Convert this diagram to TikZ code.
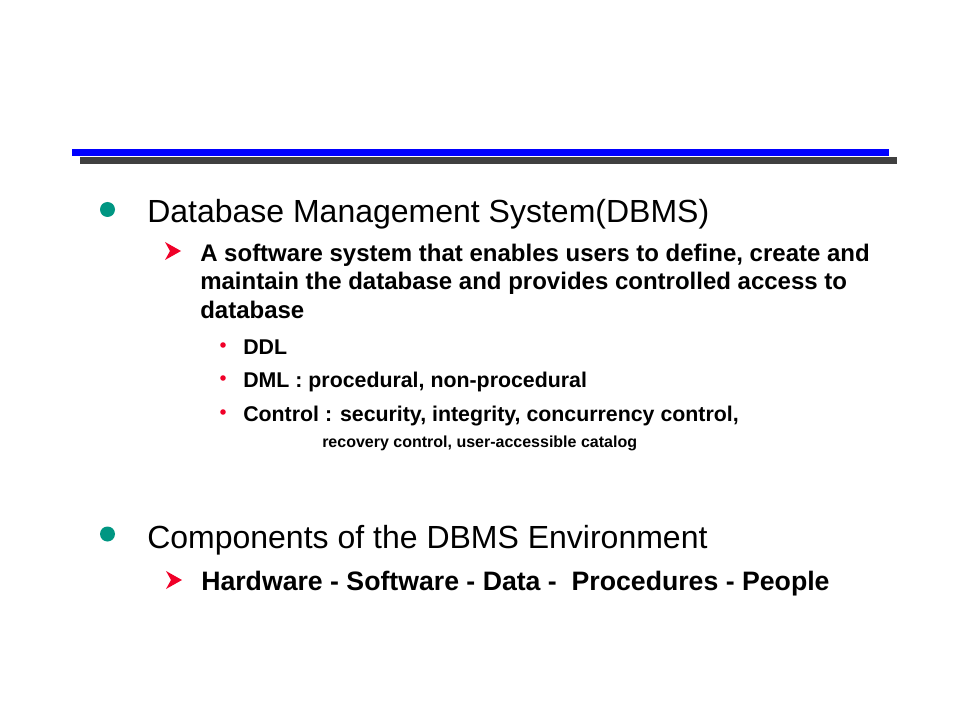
\documentclass[tikz,border=0pt]{standalone}
\usepackage{fontspec}
\setmainfont{Liberation Sans}
\definecolor{barblue}{RGB}{0,0,255}
\definecolor{bargray}{RGB}{64,64,64}
\definecolor{dotteal}{RGB}{0,150,130}
\definecolor{markred}{RGB}{240,0,40}
\tikzset{
  line/.style={anchor=base west, inner sep=0pt},
  head/.style={line, font=\fontsize{24}{28}\selectfont},
  sub/.style={line, font=\fontsize{18}{22}\bfseries\selectfont},
  subsub/.style={line, font=\fontsize{16}{19}\bfseries\selectfont},
  tiny/.style={line, font=\fontsize{12}{14}\bfseries\selectfont},
}
\begin{document}
\begin{tikzpicture}[x=0.75pt, y=-0.75pt]
        \useasboundingbox (0,0) rectangle (960,720);
        % title bars
        \fill [bargray] (80,157) rectangle (897,164);
        \fill [barblue] (72,149) rectangle (889,156);
        % first item
        \fill [dotteal] (107.5,209.5) circle [radius = 7.5];
        \node [head] (dbms) at (147,223) {Database Management System(DBMS)};
        \fill [markred] (181,251) -- (165,242) -- (170,251) -- (165,260) -- cycle;
        \node [sub] (def1) at (200,262) {A software system that enables users to define, create and};
        \node [sub] (def2) at (200,290) {maintain the database and provides controlled access to};
        \node [sub] (def3) at (200,318) {database};
        \fill [markred] (223,345) circle [radius = 2.8];
        \fill [markred] (223,378) circle [radius = 2.8];
        \fill [markred] (223,412) circle [radius = 2.8];
        \node [subsub] (ddl) at (243,354) {DDL};
        \node [subsub] (dml) at (243,387) {DML : procedural, non-procedural};
        \node [subsub] (ctrl) at (243,421) {Control : security, integrity, concurrency control,};
        \node [tiny] (ctrl2) at (322,447) {recovery control, user-accessible catalog};
        % second item
        \fill [dotteal] (107.5,534) circle [radius = 7.5];
        \node [head] (env) at (147,548) {Components of the DBMS Environment};
        \fill [markred] (182,580) -- (166,571) -- (171,580) -- (166,589) -- cycle;
        \node [sub, font=\fontsize{20}{24}\bfseries\selectfont] (parts) at (201,590) {Hardware - Software - Data -~~Procedures - People};
\end{tikzpicture}
\end{document}
